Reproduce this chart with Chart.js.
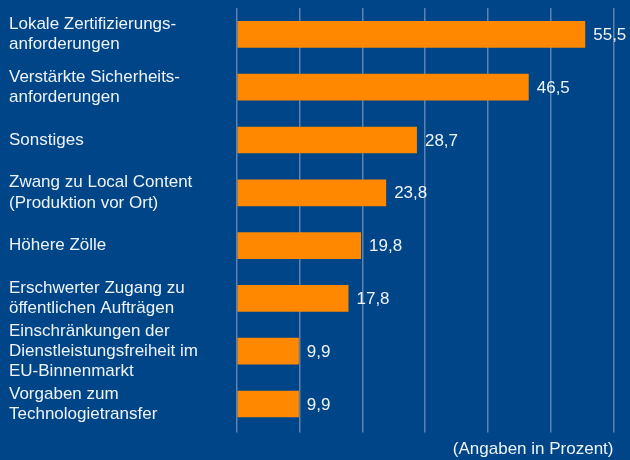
<!DOCTYPE html>
<html>
<head>
<meta charset="utf-8">
<script src="https://cdn.jsdelivr.net/npm/chart.js@4.4.1/dist/chart.umd.min.js"></script>
<style>
  html, body { margin: 0; padding: 0; background: #004587; }
  #wrap { width: 630px; height: 460px; }
</style>
</head>
<body>
<div id="wrap"><canvas id="c" width="630" height="460"></canvas></div>
<script>
const categories = [
  ["Lokale Zertifizierungs-", "anforderungen"],
  ["Verstärkte Sicherheits-", "anforderungen"],
  ["Sonstiges"],
  ["Zwang zu Local Content", "(Produktion vor Ort)"],
  ["Höhere Zölle"],
  ["Erschwerter Zugang zu", "öffentlichen Aufträgen"],
  ["Einschränkungen der", "Dienstleistungsfreiheit im", "EU-Binnenmarkt"],
  ["Vorgaben zum", "Technologietransfer"]
];
const values = [55.5, 46.5, 28.7, 23.8, 19.8, 17.8, 9.9, 9.9];
const axisTitle = "(Angaben in Prozent)";
const axisMin = 0, axisMax = 60, axisStep = 10;

const FONT = "'Liberation Sans', Arial, sans-serif";
const TEXT = '#eef3f8';

const valueLabels = {
  id: 'valueLabels',
  afterDatasetsDraw(chart) {
    const ctx = chart.ctx;
    const meta = chart.getDatasetMeta(0);
    ctx.save();
    ctx.font = "17px " + FONT;
    ctx.fillStyle = TEXT;
    ctx.textAlign = 'left';
    ctx.textBaseline = 'middle';
    meta.data.forEach((bar, i) => {
      const txt = values[i].toFixed(1).replace('.', ',');
      ctx.fillText(txt, bar.x + 8, bar.y + 1);
    });
    ctx.restore();
  }
};

new Chart(document.getElementById('c'), {
  type: 'bar',
  data: {
    labels: categories,
    datasets: [{
      data: values,
      backgroundColor: '#ff8800',
      borderWidth: 0,
      categoryPercentage: 1,
      barPercentage: 0.505
    }]
  },
  options: {
    indexAxis: 'y',
    responsive: false,
    animation: false,
    events: [],
    layout: { padding: { left: 9, top: 8, right: 16.5, bottom: 0 } },
    plugins: { legend: { display: false }, tooltip: { enabled: false } },
    scales: {
      y: {
        grid: { display: false },
        border: { display: false },
        ticks: {
          autoSkip: false,
          crossAlign: 'far',
          color: TEXT,
          font: { family: FONT, size: 17, lineHeight: 1.18 },
          padding: 0
        },
        afterFit(scale) {
          scale.width = 227.7;
          scale.paddingTop = 0;
          scale.paddingBottom = 0;
        }
      },
      x: {
        min: axisMin,
        max: axisMax,
        ticks: { display: false, stepSize: axisStep },
        grid: { color: '#5f82b0', lineWidth: 1.5, drawTicks: true, tickLength: 2 },
        border: { display: false },
        title: {
          display: true,
          text: axisTitle,
          align: 'end',
          color: TEXT,
          font: { family: FONT, size: 17, lineHeight: 1.2 },
          padding: { top: 0, bottom: 0 }
        },
        afterFit(scale) {
          scale.height = 29.6;
          scale.paddingLeft = 0;
          scale.paddingRight = 0;
        }
      }
    }
  },
  plugins: [valueLabels]
});
</script>
</body>
</html>
